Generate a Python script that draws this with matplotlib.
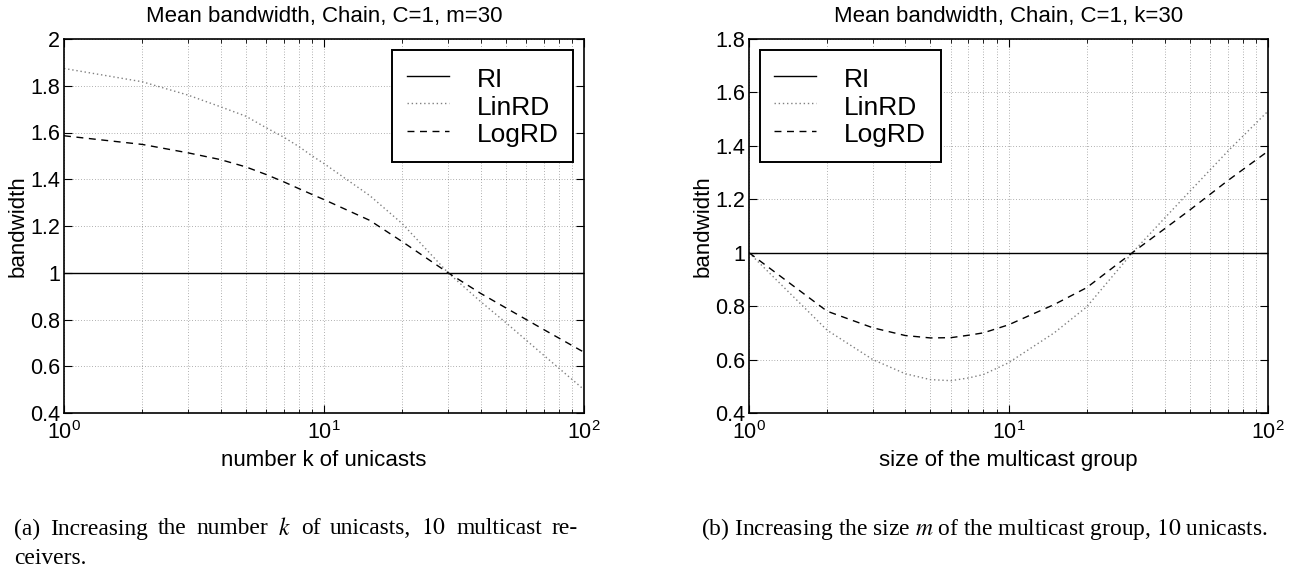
import matplotlib

matplotlib.use("Agg")
import matplotlib.pyplot as plt
from matplotlib.ticker import LogLocator, NullFormatter

plt.rcParams["font.family"] = ["Liberation Sans", "DejaVu Sans"]
plt.rcParams["mathtext.fontset"] = "stix"

# (a) increasing the number k of unicasts, m=30
k_values = [1, 2, 3, 4, 5, 6, 7, 8, 9, 10, 15, 20, 30, 40, 50, 70, 100]
ri_a = [1.0] * len(k_values)
linrd_a = [1.874, 1.817, 1.76, 1.71, 1.67, 1.62, 1.58, 1.54, 1.50, 1.467,
           1.33, 1.21, 1.0, 0.877, 0.787, 0.647, 0.50]
logrd_a = [1.586, 1.549, 1.513, 1.484, 1.453, 1.42, 1.389, 1.36, 1.335, 1.313,
           1.224, 1.133, 1.0, 0.912, 0.85, 0.757, 0.66]

# (b) increasing the size m of the multicast group, k=30
m_values = [1, 2, 3, 4, 5, 6, 7, 8, 10, 15, 20, 30, 40, 50, 70, 100]
ri_b = [1.0] * len(m_values)
linrd_b = [1.0, 0.71, 0.60, 0.547, 0.525, 0.521, 0.531, 0.544, 0.588, 0.70,
           0.797, 1.0, 1.13, 1.23, 1.38, 1.53]
logrd_b = [1.0, 0.781, 0.719, 0.69, 0.681, 0.682, 0.691, 0.70, 0.73, 0.806,
           0.869, 1.0, 1.09, 1.16, 1.27, 1.38]

caption_a = [r"(a) Increasing the number $k$ of unicasts, $10$ multicast re-", "ceivers."]
caption_b = r"(b) Increasing the size $m$ of the multicast group, $10$ unicasts."

W, H = 1295, 573
fig = plt.figure(figsize=(W / 100, H / 100), dpi=100)


def _panel(rect, x, ri, lin, log, title, xlabel, ylim, loc):
    ax = fig.add_axes([rect[0] / W, 1 - rect[3] / H, (rect[2] - rect[0]) / W, (rect[3] - rect[1]) / H])
    ax.plot(x, ri, color="black", lw=1.0, label="RI")
    ax.plot(x, lin, color="#808080", lw=1.0, ls=(0, (1, 2)), label="LinRD")
    ax.plot(x, log, color="black", lw=1.0, ls=(0, (5, 4)), label="LogRD")
    ax.set_xscale("log")
    ax.set_xlim(1, 100)
    ax.set_ylim(*ylim)
    ticks = [round(ylim[0] + 0.2 * i, 1) for i in range(int(round((ylim[1] - ylim[0]) / 0.2)) + 1)]
    ax.set_yticks(ticks)
    ax.set_yticklabels([f"{t:g}" for t in ticks])
    ax.xaxis.set_minor_locator(LogLocator(base=10, subs=range(2, 10)))
    ax.xaxis.set_minor_formatter(NullFormatter())
    ax.grid(True, which="both", axis="x", color="black", ls=(0, (1, 3)), lw=0.5, alpha=0.6)
    ax.grid(True, which="major", axis="y", color="black", ls=(0, (1, 3)), lw=0.5, alpha=0.6)
    ax.tick_params(which="both", direction="in", top=True, right=True, labelsize=15.5)
    ax.tick_params(which="major", length=6)
    ax.tick_params(which="minor", length=3)
    ax.tick_params(axis="x", which="major", pad=6)
    ax.tick_params(axis="y", which="major", pad=3)
    for spine in ax.spines.values():
        spine.set_linewidth(1.2)
    ax.set_title(title, fontsize=16, pad=12)
    ax.set_xlabel(xlabel, fontsize=16, labelpad=4)
    ax.set_ylabel("bandwidth", fontsize=16, labelpad=1)
    leg = ax.legend(loc=loc, fontsize=19, fancybox=False, framealpha=1,
                    edgecolor="black", handlelength=1.6, handleheight=1.3,
                    borderpad=0.55, labelspacing=-0.05, handletextpad=1.06,
                    borderaxespad=0.4)
    leg.get_frame().set_linewidth(1.4)
    return ax


_panel((64, 39, 584, 413), k_values, ri_a, linrd_a, logrd_a,
       "Mean bandwidth, Chain, C=1, m=30", "number k of unicasts", (0.4, 2.0), "upper right")
_panel((749, 39, 1268, 413), m_values, ri_b, linrd_b, logrd_b,
       "Mean bandwidth, Chain, C=1, k=30", "size of the multicast group", (0.4, 1.8), "upper left")

# captions: Times-like serif, (b) sized to its printed width, (a) justified
cap = dict(family=["Liberation Serif", "DejaVu Serif"], va="center", ha="left")
renderer = fig.canvas.get_renderer()
tb = fig.text(701 / W, 1 - 529 / H, caption_b, fontsize=14, **cap)
cap_size = 14 * 570 / tb.get_window_extent(renderer).width
tb.set_fontsize(cap_size)

words = caption_a[0].split(" ")
parts = [fig.text(0, 1 - 529 / H, w, fontsize=cap_size, **cap) for w in words]
widths = [p.get_window_extent(renderer).width for p in parts]
left, right = 14, 578
gap = (right - left - sum(widths)) / (len(parts) - 1)
pos = left
for p, w in zip(parts, widths):
    p.set_x(pos / W)
    pos += w + gap
fig.text(left / W, 1 - 558 / H, caption_a[1], fontsize=cap_size, **cap)

fig.savefig("out.png", dpi=100)
